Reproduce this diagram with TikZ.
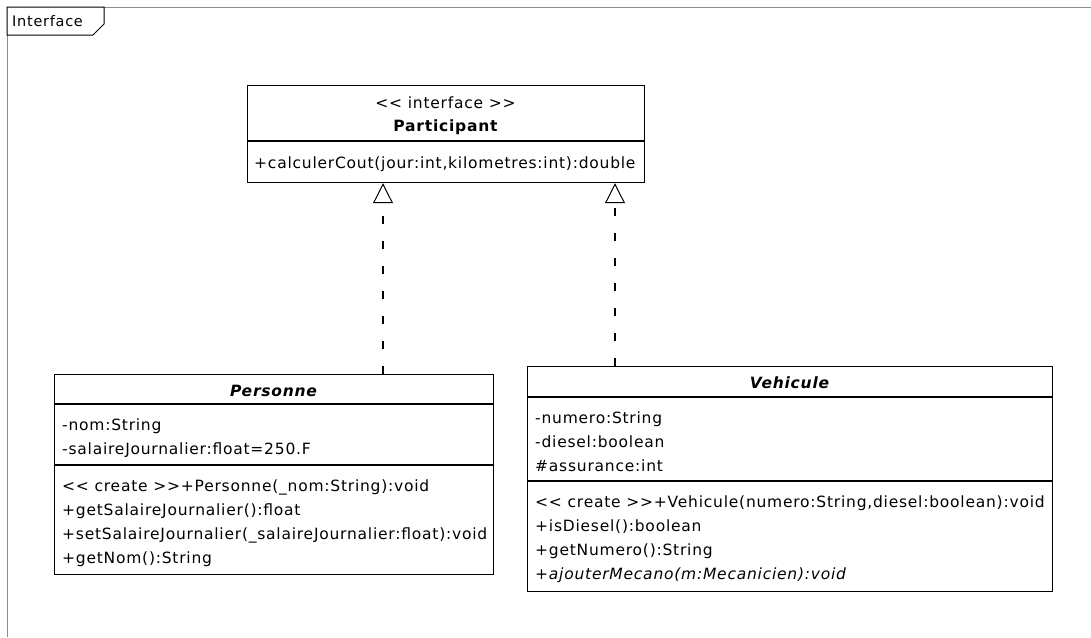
\documentclass[tikz,border=0pt]{standalone}
\usepackage{fontspec}
\newfontfamily\umlfont{DejaVu Sans}[LetterSpace=5]
\newcommand\umlsize{\fontsize{15.5}{18}\selectfont}
\usetikzlibrary{arrows.meta}
\begin{document}
\begin{tikzpicture}[x=1pt,y=-1pt,
  classbox/.style={draw=black, line width=1.2pt, fill=white, anchor=north west, inner sep=0pt},
  sepline/.style={draw=black, line width=1.2pt},
  member/.style={anchor=base west, inner sep=0pt, font=\umlfont\umlsize},
  title/.style={anchor=base, inner sep=0pt, font=\umlfont\umlsize},
  realize/.style={line width=1.1pt, dash pattern=on 8pt off 17pt,
    -{Triangle[open, length=20pt, width=20pt, line width=1pt, fill=white]}}
]
\useasboundingbox (0,0) rectangle (1091,637);
\fill[white] (0,0) rectangle (1091,637);

% diagram frame and its name tab
\draw[black!45, line width=1pt] (7,637) -- (7,7) -- (1091,7);
\draw[black, line width=1pt, fill=white] (7,7) -- (104,7) -- (104,24) -- (93,35) -- (7,35) -- cycle;
\node[member, font=\umlfont\fontsize{14.5}{17}\selectfont] (frametag) at (12,27) {Interface};

% interface Participant
\node[classbox, minimum width=397pt, minimum height=97pt] (participant) at (247,85) {};
\draw[sepline] (participant.west |- 0,141) -- (participant.east |- 0,141);
\node[title] (pstereo) at (445.5,108) {<< interface >>};
\node[title, font=\umlfont\bfseries\umlsize] (pname) at (445.5,131) {Participant};
\node[member] (pop1) at (254,168) {+calculerCout(jour:int,kilometres:int):double};

% class Personne
\node[classbox, minimum width=439pt, minimum height=200pt] (personne) at (54,374) {};
\draw[sepline] (personne.west |- 0,404) -- (personne.east |- 0,404);
\draw[sepline] (personne.west |- 0,465) -- (personne.east |- 0,465);
\node[title, font=\umlfont\bfseries\itshape\umlsize] (prname) at (273.5,396) {Personne};
\node[member] (pra1) at (62,430) {-nom:String};
\node[member] (pra2) at (62,454) {-salaireJournalier:float=250.F};
\node[member] (pro1) at (62,491) {<< create >>+Personne(\_nom:String):void};
\node[member] (pro2) at (62,515) {+getSalaireJournalier():float};
\node[member] (pro3) at (62,539) {+setSalaireJournalier(\_salaireJournalier:float):void};
\node[member] (pro4) at (62,563) {+getNom():String};

% class Vehicule
\node[classbox, minimum width=525pt, minimum height=225pt] (vehicule) at (527,366) {};
\draw[sepline] (vehicule.west |- 0,397) -- (vehicule.east |- 0,397);
\draw[sepline] (vehicule.west |- 0,481) -- (vehicule.east |- 0,481);
\node[title, font=\umlfont\bfseries\itshape\umlsize] (vname) at (789.5,388) {Vehicule};
\node[member] (va1) at (535,423) {-numero:String};
\node[member] (va2) at (535,447) {-diesel:boolean};
\node[member] (va3) at (535,471) {\#assurance:int};
\node[member] (vo1) at (535,507) {<< create >>+Vehicule(numero:String,diesel:boolean):void};
\node[member] (vo2) at (535,531) {+isDiesel():boolean};
\node[member] (vo3) at (535,555) {+getNumero():String};
\node[member, font=\umlfont\itshape\umlsize] (vo4) at (535,579) {+ajouterMecano(m:Mecanicien):void};

% realizations of the interface
\draw[realize] (personne.north -| 383,0) -- (participant.south -| 383,0);
\draw[realize] (vehicule.north -| 615,0) -- (participant.south -| 615,0);
\end{tikzpicture}
\end{document}
